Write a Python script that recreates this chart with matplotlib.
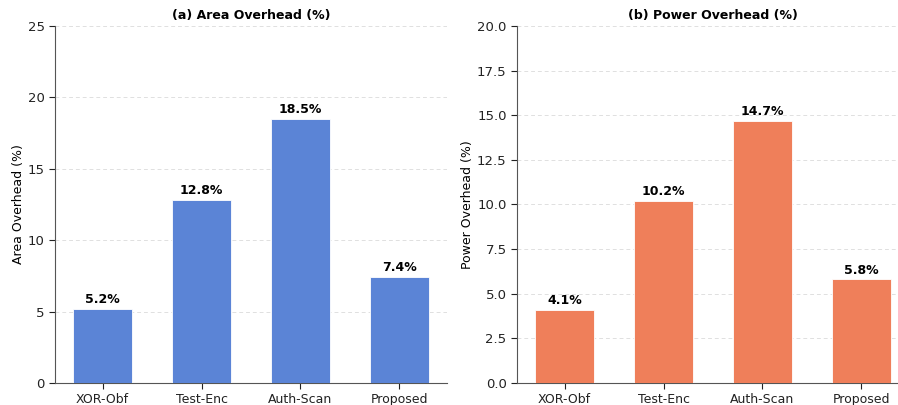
import matplotlib.pyplot as plt

methods = ["XOR-Obf", "Test-Enc", "Auth-Scan", "Proposed"]
area_overhead = [5.2, 12.8, 18.5, 7.4]
power_overhead = [4.1, 10.2, 14.7, 5.8]

W, H = 898, 405
fig = plt.figure(figsize=(W / 100, H / 100), dpi=100)

# axes placed in pixel terms; the right panel runs slightly past the figure edge
ax1 = fig.add_axes([55 / W, 22 / H, 392 / W, 357 / H])
ax2 = fig.add_axes([517 / W, 22 / H, 392 / W, 357 / H])

panels = [
    (ax1, area_overhead, "#5b84d6", "(a) Area Overhead (%)", "Area Overhead (%)", 25, [0, 5, 10, 15, 20, 25], "{:.0f}"),
    (ax2, power_overhead, "#ef7f5a", "(b) Power Overhead (%)", "Power Overhead (%)", 20, [0, 2.5, 5, 7.5, 10, 12.5, 15, 17.5, 20], "{:.1f}"),
]

for ax, vals, color, title, ylabel, ymax, yticks, fmt in panels:
    x = range(len(methods))
    bars = ax.bar(x, vals, width=0.6, color=color, edgecolor="white", linewidth=0.6, zorder=3)
    for b, v in zip(bars, vals):
        ax.text(b.get_x() + b.get_width() / 2, v + ymax * 0.008, f"{v}%",
                ha="center", va="bottom", fontsize=9, fontweight="bold")
    ax.set_xticks(list(x))
    ax.set_xticklabels(methods, fontsize=9)
    ax.set_ylim(0, ymax)
    ax.set_yticks(yticks)
    ax.set_yticklabels([fmt.format(t) for t in yticks], fontsize=9.5)
    ax.set_ylabel(ylabel, fontsize=9, labelpad=2)
    ax.set_title(title, fontsize=9, fontweight="bold", pad=5)
    ax.grid(axis="y", linestyle=(0, (4, 3)), color="#e0e0e0", linewidth=0.7, zorder=0)
    ax.spines["top"].set_visible(False)
    ax.spines["right"].set_visible(False)
    for s in ("left", "bottom"):
        ax.spines[s].set_color("#555555")
    ax.tick_params(colors="#222222", length=4)

fig.savefig("out.png", dpi=100)
